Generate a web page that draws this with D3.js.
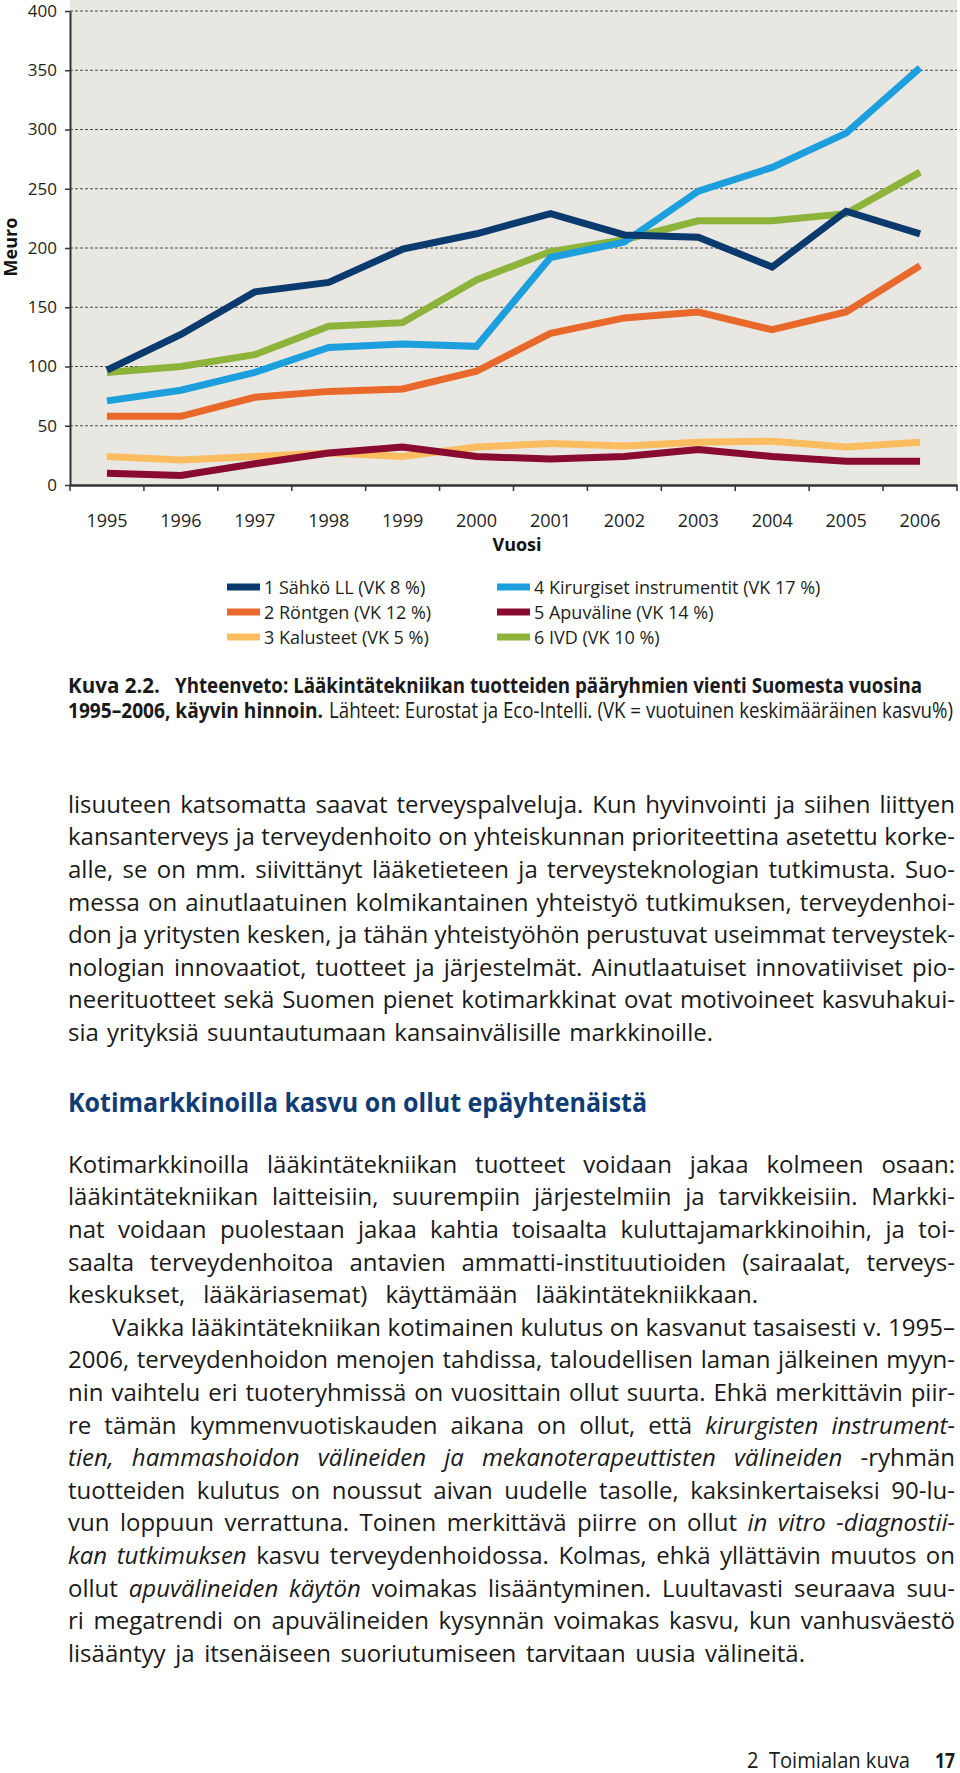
<!DOCTYPE html>
<html>
<head>
<meta charset="utf-8">
<script src="https://cdn.jsdelivr.net/npm/d3@7"></script>
<style>
  body { margin: 0; background: #fff; }
  svg { display: block; font-family: "Open Sans", "Noto Sans", sans-serif; }
</style>
</head>
<body>
<script>
// chart data (Meuro)
var years = ["1995","1996","1997","1998","1999","2000","2001","2002","2003","2004","2005","2006"];
var sahko      = [97, 127, 163, 171, 199, 212, 229, 211, 209, 184, 231, 212];
var rontgen    = [58, 58, 74, 79, 81, 96, 128, 141, 146, 131, 146, 185];
var kalusteet  = [24, 21, 24, 27, 24, 32, 35, 33, 36, 37, 32, 36];
var kirurgiset = [71, 80, 95, 116, 119, 117, 192, 205, 248, 268, 297, 352];
var apuvaline  = [10, 8, 18, 27, 32, 24, 22, 24, 30, 24, 20, 20];
var ivd        = [95, 100, 110, 134, 137, 173, 197, 207, 223, 223, 229, 264];
var yTicks = [0, 50, 100, 150, 200, 250, 300, 350, 400];

var seriesNames = ["1 Sähkö LL (VK 8 %)", "2 Röntgen (VK 12 %)", "3 Kalusteet (VK 5 %)",
                   "4 Kirurgiset instrumentit (VK 17 %)", "5 Apuväline (VK 14 %)", "6 IVD (VK 10 %)"];
var seriesValues = [sahko, rontgen, kalusteet, kirurgiset, apuvaline, ivd];
var colors = ["#0b3a6f", "#e8692b", "#fbbd5f", "#1c9fdc", "#8a0b30", "#8db33b"];
var drawOrder = [5, 3, 1, 2, 4, 0];

var para1 = [
  "lisuuteen katsomatta saavat terveyspalveluja. Kun hyvinvointi ja siihen liittyen",
  "kansanterveys ja terveydenhoito on yhteiskunnan prioriteettina asetettu korke-",
  "alle, se on mm. siivittänyt lääketieteen ja terveysteknologian tutkimusta. Suo-",
  "messa on ainutlaatuinen kolmikantainen yhteistyö tutkimuksen, terveydenhoi-",
  "don ja yritysten kesken, ja tähän yhteistyöhön perustuvat useimmat terveystek-",
  "nologian innovaatiot, tuotteet ja järjestelmät. Ainutlaatuiset innovatiiviset pio-",
  "neerituotteet sekä Suomen pienet kotimarkkinat ovat motivoineet kasvuhakui-",
  "sia yrityksiä suuntautumaan kansainvälisille markkinoille."
];
var para2 = [
  "Kotimarkkinoilla lääkintätekniikan tuotteet voidaan jakaa kolmeen osaan:",
  "lääkintätekniikan laitteisiin, suurempiin järjestelmiin ja tarvikkeisiin. Markki-",
  "nat voidaan puolestaan jakaa kahtia toisaalta kuluttajamarkkinoihin, ja toi-",
  "saalta terveydenhoitoa antavien ammatti-instituutioiden (sairaalat, terveys-",
  "keskukset, lääkäriasemat) käyttämään lääkintätekniikkaan.",
  "Vaikka lääkintätekniikan kotimainen kulutus on kasvanut tasaisesti v. 1995–",
  "2006, terveydenhoidon menojen tahdissa, taloudellisen laman jälkeinen myyn-",
  "nin vaihtelu eri tuoteryhmissä on vuosittain ollut suurta. Ehkä merkittävin piir-",
  "re tämän kymmenvuotiskauden aikana on ollut, että *kirurgisten instrument-*",
  "*tien, hammashoidon välineiden ja mekanoterapeuttisten välineiden* -ryhmän",
  "tuotteiden kulutus on noussut aivan uudelle tasolle, kaksinkertaiseksi 90-lu-",
  "vun loppuun verrattuna. Toinen merkittävä piirre on ollut *in vitro -diagnostii-*",
  "*kan tutkimuksen* kasvu terveydenhoidossa. Kolmas, ehkä yllättävin muutos on",
  "ollut *apuvälineiden käytön* voimakas lisääntyminen. Luultavasti seuraava suu-",
  "ri megatrendi on apuvälineiden kysynnän voimakas kasvu, kun vanhusväestö",
  "lisääntyy ja itsenäiseen suoriutumiseen tarvitaan uusia välineitä."
];

var svg = d3.select("body").append("svg")
    .attr("width", 960)
    .attr("height", 1773);

var x = d3.scaleBand().domain(years).range([70, 957]);
var y = d3.scaleLinear().domain([0, 400]).range([485, 11]);
var cx = function(d) { return x(d) + x.bandwidth() / 2; };

// plot background
svg.append("rect")
    .attr("x", 70).attr("y", 0)
    .attr("width", 887).attr("height", 485)
    .attr("fill", "#e9e7e2");

// dashed grid
svg.append("g").selectAll("line")
    .data(yTicks.filter(function(d) { return d > 0; }))
  .enter().append("line")
    .attr("x1", 70).attr("x2", 957)
    .attr("y1", function(d) { return y(d); })
    .attr("y2", function(d) { return y(d); })
    .attr("stroke", "#4a4a4a")
    .attr("stroke-width", 1)
    .attr("stroke-dasharray", "3,2");

// y axis
var yAxis = svg.append("g")
    .attr("transform", "translate(70,0)")
    .call(d3.axisLeft(y).tickValues(yTicks).tickSize(5).tickSizeOuter(0).tickPadding(8));
yAxis.select(".domain").attr("stroke", "#333").attr("stroke-width", 2);
yAxis.selectAll(".tick line").attr("stroke", "#333").attr("stroke-width", 1.5);
yAxis.selectAll(".tick text")
    .attr("font-size", 17)
    .attr("font-family", "Open Sans")
    .attr("fill", "#231f20");

// x axis, labels in band centres, ticks at band edges
var xAxis = svg.append("g")
    .attr("transform", "translate(0,485)")
    .call(d3.axisBottom(x).tickSize(0).tickSizeOuter(0).tickPadding(29));
xAxis.select(".domain").attr("stroke", "#333").attr("stroke-width", 2.5);
xAxis.selectAll(".tick text")
    .attr("font-size", 18)
    .attr("font-family", "Open Sans")
    .attr("fill", "#231f20");
svg.append("g").selectAll("line")
    .data(years.map(function(d) { return x(d); }).concat([x.range()[1]]))
  .enter().append("line")
    .attr("x1", function(d) { return d; })
    .attr("x2", function(d) { return d; })
    .attr("y1", 485).attr("y2", 491)
    .attr("stroke", "#333").attr("stroke-width", 1.5);

// axis titles
svg.append("text")
    .attr("transform", "translate(17,247) rotate(-90)")
    .attr("text-anchor", "middle")
    .attr("font-size", 18).attr("font-weight", "bold")
    .attr("fill", "#111")
    .text("Meuro");
svg.append("text")
    .attr("x", 517).attr("y", 551)
    .attr("text-anchor", "middle")
    .attr("font-size", 18).attr("font-weight", "bold")
    .attr("fill", "#111")
    .text("Vuosi");

// lines
var line = d3.line()
    .x(function(d, i) { return cx(years[i]); })
    .y(function(d) { return y(d); });

svg.append("g").selectAll("path")
    .data(drawOrder)
  .enter().append("path")
    .attr("d", function(k) { return line(seriesValues[k]); })
    .attr("fill", "none")
    .attr("stroke", function(k) { return colors[k]; })
    .attr("stroke-width", 7)
    .attr("stroke-linejoin", "miter");

// legend: two columns of three
var legend = svg.append("g").selectAll("g")
    .data(seriesNames)
  .enter().append("g")
    .attr("transform", function(d, i) {
      var lx = i < 3 ? 227 : 497;
      var ly = 587 + (i % 3) * 25;
      return "translate(" + lx + "," + ly + ")";
    });
legend.append("rect")
    .attr("x", 0).attr("y", -3.5)
    .attr("width", 33).attr("height", 7)
    .attr("fill", function(d, i) { return colors[i]; });
legend.append("text")
    .attr("x", 37).attr("y", 6.5)
    .attr("font-size", 18)
    .attr("fill", "#231f20")
    .text(function(d) { return d; });

// stretch a text element to a given width
var fit = function(sel, target, justify) {
  var node = sel.node();
  var natural = node.getComputedTextLength();
  var spaces = (node.textContent.match(/ /g) || []).length;
  if (justify && target >= natural && spaces > 0) {
    sel.attr("word-spacing", (target - natural) / spaces);
  } else {
    sel.attr("textLength", target).attr("lengthAdjust", "spacingAndGlyphs");
  }
};

// caption
var cap = function(x0, x1, yb, str, weight) {
  var t = svg.append("text")
      .attr("x", x0).attr("y", yb)
      .attr("font-size", 21)
      .attr("font-weight", weight)
      .attr("fill", "#1a1a1a")
      .text(str);
  fit(t, x1 - x0, false);
};
cap(68, 160, 692.5, "Kuva 2.2.", "bold");
cap(175, 922, 692.5, "Yhteenveto: Lääkintätekniikan tuotteiden pääryhmien vienti Suomesta vuosina", "bold");
cap(68, 323, 717.5, "1995–2006, käyvin hinnoin.", "bold");
cap(329, 953, 717.5, "Lähteet: Eurostat ja Eco-Intelli. (VK = vuotuinen keskimääräinen kasvu%)", "normal");

// body text
var bodyLine = function(str, x0, x1, yb, justify) {
  var t = svg.append("text")
      .attr("x", x0).attr("y", yb)
      .attr("font-size", 24)
      .attr("fill", "#1a1a1a");
  str.split("*").forEach(function(part, i) {
    if (part === "") return;
    t.append("tspan")
      .attr("font-style", i % 2 ? "italic" : "normal")
      .text(part);
  });
  fit(t, x1 - x0, justify);
};

var lead = 32.6;
para1.forEach(function(s, i) {
  var last = i === para1.length - 1;
  bodyLine(s, 68, last ? 713 : 955, 812.7 + i * lead, true);
});
para2.forEach(function(s, i) {
  var end = 955;
  if (i === 4) end = 758;
  if (i === para2.length - 1) end = 805;
  bodyLine(s, i === 5 ? 112 : 68, end, 1172.7 + i * lead, true);
});

// section heading
var head = svg.append("text")
    .attr("x", 68).attr("y", 1111.5)
    .attr("font-size", 27)
    .attr("font-weight", "bold")
    .attr("fill", "#0f3c74")
    .text("Kotimarkkinoilla kasvu on ollut epäyhtenäistä");
fit(head, 579, false);

// page footer
var foot = svg.append("text")
    .attr("x", 747).attr("y", 1768)
    .attr("font-size", 21)
    .attr("fill", "#1a1a1a")
    .attr("xml:space", "preserve")
    .text("2  Toimialan kuva");
fit(foot, 163, false);
var page = svg.append("text")
    .attr("x", 935).attr("y", 1768)
    .attr("font-size", 21)
    .attr("font-weight", "bold")
    .attr("fill", "#1a1a1a")
    .text("17");
fit(page, 20, false);
</script>
</body>
</html>
